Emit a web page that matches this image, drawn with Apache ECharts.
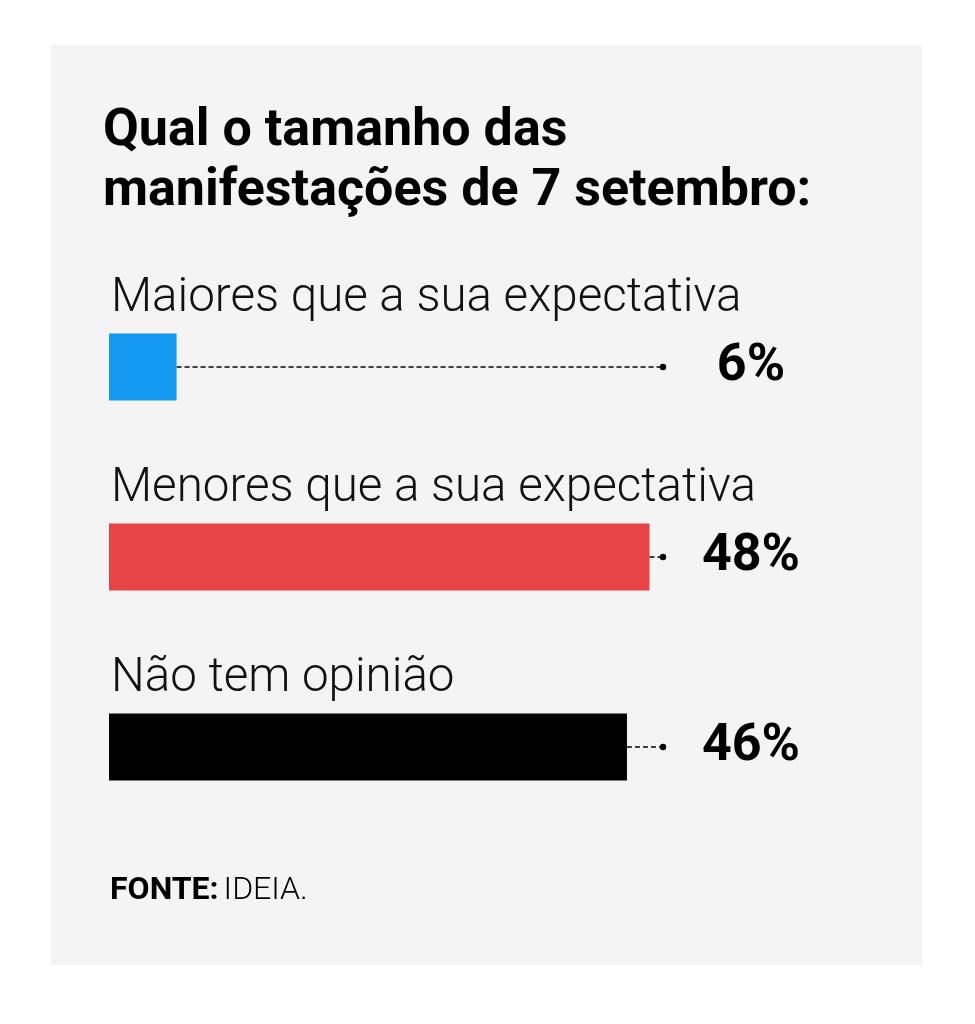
<!DOCTYPE html>
<html>
<head>
<meta charset="utf-8">
<script src="https://cdn.jsdelivr.net/npm/echarts@6/dist/echarts.min.js"></script>
<style>
  html, body { margin: 0; padding: 0; background: #ffffff; }
  #chart { width: 975px; height: 1024px; }
</style>
</head>
<body>
<div id="chart"></div>
<script>
/*
* dados
*/
var categorias = ['Maiores que a sua expectativa', 'Menores que a sua expectativa', 'Não tem opinião'];
var valores = [6, 48, 46];
var cores = ['#1499f1', '#e84346', '#000000'];
var rotulos = ['6%', '48%', '46%'];
var xMax = 49.2;

var fonte = 'Roboto, "Noto Sans", sans-serif';

var optionBarras = {
    backgroundColor: '#ffffff',
    animation: false,
    graphic: [
        {
            type: 'rect',
            z: -10,
            shape: { x: 51, y: 45, width: 871, height: 920 },
            style: { fill: '#f4f4f4' }
        }
    ],
    title: [
        {
            text: 'Qual o tamanho das\nmanifestações de 7 setembro:',
            left: 103,
            top: 102,
            padding: 0,
            textStyle: {
                fontFamily: fonte,
                fontSize: 52,
                fontWeight: 'bold',
                lineHeight: 60,
                color: '#000000'
            }
        },
        {
            text: '{b|FONTE:} {n|IDEIA.}',
            left: 110,
            top: 875,
            padding: 0,
            textStyle: {
                rich: {
                    b: { fontFamily: fonte, fontSize: 32, fontWeight: 'bold', color: '#000' },
                    n: { fontFamily: fonte, fontSize: 32, fontWeight: 300, color: '#000' }
                }
            }
        }
    ],
    grid: { left: 109, right: 975 - 109 - 554, top: 272, height: 570 },
    xAxis: {
        type: 'value',
        min: 0,
        max: xMax,
        show: false
    },
    yAxis: {
        type: 'category',
        inverse: true,
        data: categorias,
        show: false
    },
    series: [
        {
            type: 'bar',
            barWidth: 67,
            data: valores.map(function (v, i) {
                return { value: v, itemStyle: { color: cores[i] } };
            }),
            label: {
                show: true,
                position: [2, -10],
                verticalAlign: 'bottom',
                align: 'left',
                formatter: '{b}',
                fontFamily: fonte,
                fontSize: 47.5,
                fontWeight: 300,
                color: '#111111'
            }
        },
        {
            type: 'custom',
            data: valores.map(function (v, i) { return [v, i]; }),
            renderItem: function (params, api) {
                var ini = api.coord([api.value(0), api.value(1)]);
                var fim = api.coord([xMax, api.value(1)]);
                return {
                    type: 'group',
                    children: [
                        {
                            type: 'line',
                            shape: { x1: ini[0], y1: ini[1], x2: fim[0], y2: fim[1] },
                            style: { stroke: '#000000', lineWidth: 1.5, lineDash: [5, 3] }
                        },
                        {
                            type: 'circle',
                            shape: { cx: fim[0], cy: fim[1], r: 3.2 },
                            style: { fill: '#000000' }
                        },
                        {
                            type: 'text',
                            x: fim[0] + 88,
                            y: fim[1],
                            style: {
                                text: rotulos[params.dataIndex],
                                align: 'center',
                                verticalAlign: 'middle',
                                fontFamily: fonte,
                                fontSize: 52,
                                fontWeight: 'bold',
                                fill: '#000000'
                            }
                        }
                    ]
                };
            }
        }
    ]
};

var myChart = echarts.init(document.getElementById('chart'));
myChart.setOption(optionBarras);
</script>
</body>
</html>
